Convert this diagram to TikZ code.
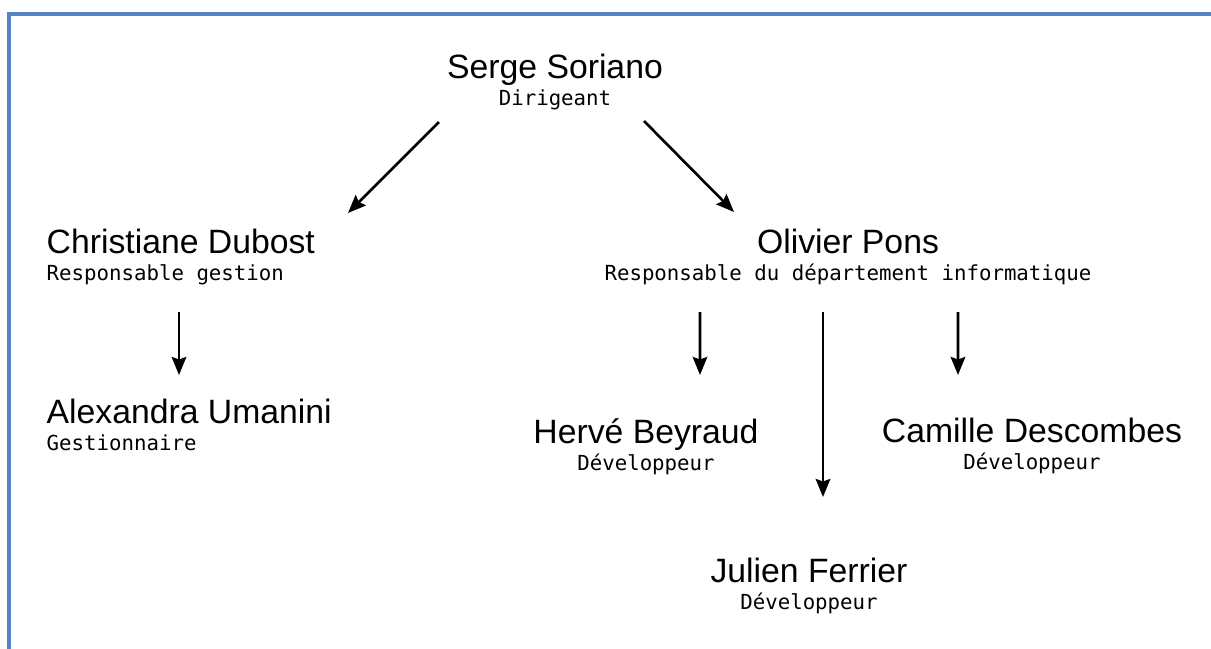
\documentclass[tikz,border=0pt]{standalone}
\usepackage{fontspec}
\setmainfont{Liberation Sans}
\newfontfamily\jobfont{DejaVu Sans Mono}
\usetikzlibrary{arrows.meta}

\begin{document}
\begin{tikzpicture}[
  >={Stealth[length=1.8mm,width=1.45mm,inset=0.25mm]},
  person/.style={inner sep=0pt,font=\fontsize{9.6}{11}\selectfont},
  job/.style={inner sep=0pt,anchor=base,font=\jobfont\fontsize{5.9}{7}\selectfont},
  link/.style={->,line width=0.75pt},
  frame/.style={draw={rgb,255:red,84;green,132;blue,196},line width=0.9pt}
]
\useasboundingbox (0,0) rectangle (12.11,-6.49);
\draw[frame] (0.09,-6.49) -- (0.09,-0.14) -- (12.11,-0.14);

% people
\node[person,anchor=base] (soriano) at (5.55,-0.78) {Serge Soriano};
\node[job] (soriano-r) at ([yshift=-2.7mm]soriano.base) {Dirigeant};

\node[person,anchor=base west] (dubost) at (0.46,-2.53) {Christiane Dubost};
\node[job,anchor=base west] (dubost-r) at ([yshift=-2.7mm]dubost.base west) {Responsable gestion};

\node[person,anchor=base west] (umanini) at (0.46,-4.23) {Alexandra Umanini};
\node[job,anchor=base west] (umanini-r) at ([yshift=-2.7mm]umanini.base west) {Gestionnaire};

\node[person,anchor=base] (pons) at (8.48,-2.53) {Olivier Pons};
\node[job] (pons-r) at ([yshift=-2.7mm]pons.base) {Responsable du département informatique};

\node[person,anchor=base] (beyraud) at (6.46,-4.43) {Hervé Beyraud};
\node[job] (beyraud-r) at ([yshift=-2.7mm]beyraud.base) {Développeur};

\node[person,anchor=base] (descombes) at (10.32,-4.42) {Camille Descombes};
\node[job] (descombes-r) at ([yshift=-2.7mm]descombes.base) {Développeur};

\node[person,anchor=base] (ferrier) at (8.09,-5.82) {Julien Ferrier};
\node[job] (ferrier-r) at ([yshift=-2.7mm]ferrier.base) {Développeur};

% links
\draw[link] ([xshift=-11.6mm,yshift=-1.7mm]soriano-r.base) -- ([xshift=30.2mm,yshift=4.0mm]dubost.base west);
\draw[link] ([xshift=8.9mm,yshift=-1.6mm]soriano-r.base) -- ([xshift=-11.4mm,yshift=4.1mm]pons.base);
\draw[link] ([xshift=13.3mm,yshift=-3.2mm]dubost-r.base west) -- ([xshift=13.3mm,yshift=4.8mm]umanini.base west);
\draw[link] ([xshift=-14.8mm,yshift=-3.2mm]pons-r.base) -- ([xshift=5.4mm,yshift=6.8mm]beyraud.base);
\draw[link] ([xshift=-2.5mm,yshift=-3.2mm]pons-r.base) -- ([xshift=1.4mm,yshift=8.5mm]ferrier.base);
\draw[link] ([xshift=11.0mm,yshift=-3.2mm]pons-r.base) -- ([xshift=-7.4mm,yshift=6.7mm]descombes.base);

\end{tikzpicture}
\end{document}
